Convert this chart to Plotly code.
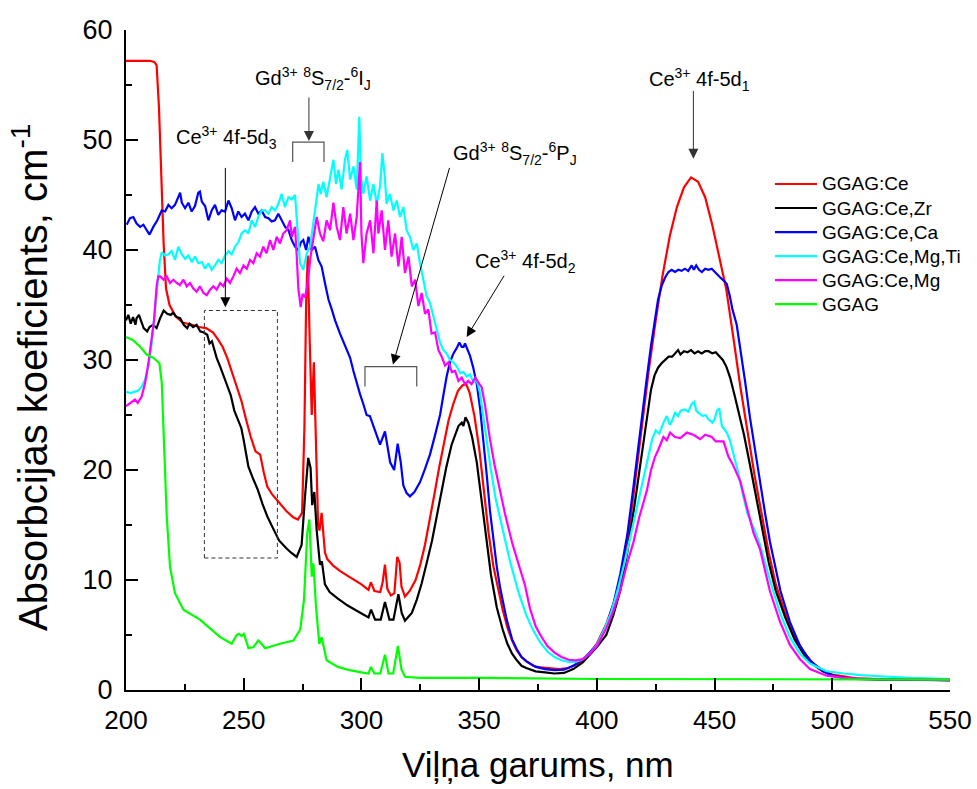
import plotly.graph_objects as go

# ---- absorption spectra (wavelength in nm, absorption coefficient in cm^-1) ----
series_names = ["GGAG:Ce", "GGAG:Ce,Zr", "GGAG:Ce,Ca", "GGAG:Ce,Mg,Ti", "GGAG:Ce,Mg", "GGAG"]
series_colors = ["#ff0000", "#000000", "#0000ff", "#00ffff", "#ff00ff", "#00ff00"]

wl_ce = [200, 205, 210, 212, 213, 214, 215, 216, 217, 218.5, 221, 224, 228, 231, 234, 237, 239, 241,
         243, 245, 247, 249, 251, 253, 255, 257, 258.5, 260, 262, 265, 268, 271, 273, 274.8, 275.8,
         276.5, 277.2, 278, 278.9, 279.8, 280.6, 281.6, 282.2, 283.1, 284.5, 285.5, 288, 291, 294,
         297, 300, 303, 304, 305.5, 308, 309, 310, 311, 312.5, 314, 315.2, 316.2, 317, 318.5, 320.5,
         323, 325, 327, 329, 331, 333, 335, 337, 339, 341, 343, 344.5, 346, 348, 350, 352, 354, 356,
         358, 360, 362, 364, 366, 368, 370, 373, 376, 380, 384, 388, 392, 396, 400, 404, 407, 410,
         413, 416, 419, 422, 425, 428, 431, 434, 437, 440, 443, 446, 449, 452, 455, 458, 461, 464,
         467, 470, 473, 476, 480, 484, 488, 492, 496, 500, 505, 510, 520, 530, 540, 550]
ab_ce = [57.2, 57.2, 57.2, 57.1, 56.8, 53.0, 47.0, 40.5, 36.5, 35.0, 34.0, 33.4, 33.2, 33.0, 32.9,
         32.5, 31.9, 31.2, 30.2, 28.9, 27.5, 26.3, 24.6, 23.0, 21.7, 21.4, 19.8, 18.5, 17.8, 17.0,
         16.3, 15.7, 15.5, 16.1, 24.0, 35.0, 39.5, 32.0, 25.0, 29.8, 22.0, 15.0, 14.5, 16.1, 12.5,
         11.9, 11.3, 10.8, 10.4, 10.0, 9.6, 9.1, 9.8, 9.0, 8.9, 9.8, 11.4, 9.2, 8.6, 8.8, 12.1, 11.6,
         9.4, 8.5, 9.0, 10.0, 11.4, 13.2, 15.4, 17.8, 20.2, 22.5, 24.5, 26.0, 27.2, 27.7, 27.8, 27.0,
         24.9, 22.0, 18.0, 14.3, 11.3, 9.3, 7.3, 5.7, 4.5, 3.6, 3.0, 2.6, 2.2, 2.05, 1.95, 1.9, 2.0,
         2.4, 3.1, 4.2, 6.0, 7.8, 10.0, 13.5, 18.5, 24.0, 29.0, 33.6, 37.8, 41.3, 43.9, 45.7, 46.6,
         46.2, 44.8, 42.3, 39.3, 36.4, 32.0, 27.5, 23.5, 19.5, 16.0, 12.5, 9.6, 7.0, 4.9, 3.4, 2.4,
         1.8, 1.4, 1.2, 1.05, 1.0, 0.95, 0.9, 0.9]

wl_zr = [200, 201, 202, 203, 204, 204.5, 205.5, 206.5, 207.5, 209, 210, 211.5, 213, 214.5, 216,
         217.5, 219, 220, 221.5, 223, 224.5, 226, 227, 228.5, 230, 231.5, 233, 234.5, 235.5, 236.5,
         237.5, 238.5, 240, 241.5, 243, 244.5, 246, 247.5, 249, 250, 252, 254, 256, 258, 260, 262,
         265, 268, 270, 272.5, 274.6, 276, 277.4, 278.4, 279.1, 280, 281, 282.4, 283.2, 284.5, 286.5,
         290, 294, 298, 302, 303, 304.1, 305.8, 308.2, 310, 311.9, 313.6, 315.7, 317.1, 318.5, 321.4,
         323.5, 325.6, 328, 330, 332, 334, 336, 338.3, 340, 341.2, 342.6, 343.3, 344.2, 345.4, 347,
         349, 351, 353, 355, 357.5, 360, 362, 364, 366, 368, 370, 374, 378, 382, 386, 390, 394, 397,
         400, 404, 407, 410, 413, 416, 419, 421.5, 423, 424.5, 426, 427.5, 429, 430.5, 432, 433.5,
         434.5, 435.5, 437, 438.5, 440, 441.5, 443, 444.5, 446, 447.5, 449, 450.5, 452, 453.5, 455,
         456.6, 458.5, 460.5, 462.5, 465, 467.5, 470, 473, 476, 480, 484, 488, 492, 496, 500, 505,
         510, 520, 550]
ab_zr = [33.6, 34.1, 33.3, 33.9, 33.2, 33.8, 34.1, 33.5, 32.9, 32.6, 33.0, 33.2, 32.9, 33.8, 34.5,
         34.2, 34.1, 34.3, 33.9, 33.8, 33.2, 32.9, 33.3, 33.0, 33.2, 32.6, 32.5, 32.3, 31.5, 31.7,
         31.0, 30.2, 29.4, 28.5, 27.8, 26.8, 25.4, 24.6, 23.8, 22.7, 20.3, 19.2, 18.2, 16.9, 15.8,
         14.9, 13.6, 12.9, 12.5, 12.1, 13.2, 17.5, 21.1, 20.2, 16.8, 18.0, 14.5, 11.4, 11.7, 9.6, 8.9,
         8.3, 7.7, 7.2, 6.7, 6.6, 7.3, 6.4, 6.4, 8.0, 6.4, 6.4, 8.7, 7.0, 6.3, 7.0, 8.2, 9.7, 11.8,
         13.6, 15.8, 18.0, 20.2, 22.3, 23.4, 24.0, 24.3, 24.0, 24.8, 24.3, 23.0, 20.7, 17.3, 13.8,
         10.5, 7.5, 5.5, 4.2, 3.3, 2.7, 2.2, 2.0, 1.7, 1.6, 1.5, 1.55, 1.9, 2.5, 3.2, 3.9, 5.0, 6.8,
         9.1, 12.6, 16.8, 21.5, 25.0, 27.3, 28.6, 29.3, 29.7, 30.0, 30.3, 30.3, 30.7, 30.9, 30.5,
         30.8, 30.7, 30.9, 30.6, 30.8, 30.6, 30.8, 30.8, 30.6, 30.7, 30.3, 30.0, 29.4, 28.4, 26.8,
         25.0, 23.2, 20.5, 17.8, 15.0, 11.6, 9.0, 6.6, 4.6, 3.2, 2.3, 1.7, 1.3, 1.1, 1.0, 0.95, 0.9]

wl_ca = [200.3, 201.7, 203.1, 204.5, 206, 207.4, 208.8, 210, 211.6, 213.3, 215.2, 216.6, 218, 219.4,
         220.8, 222.2, 223, 223.7, 225.1, 226.5, 227.9, 229.3, 230.7, 231.4, 232.2, 233.6, 235,
         236.4, 237.8, 239.2, 240.6, 242.1, 243.5, 244.9, 246.3, 247.7, 249.1, 250.5, 252, 253.4,
         254.8, 256.2, 257.6, 259.1, 260.5, 261.9, 263.3, 264.7, 266.1, 267.6, 269, 270.4, 271.8,
         273.2, 274.3, 275.3, 276.5, 277.5, 278.9, 280.3, 281.7, 283.1, 284.5, 286, 287.4, 288.8,
         290.9, 293, 295.2, 296.6, 298, 299.4, 300.8, 302.2, 303.6, 305.8, 307.9, 310, 312.2, 313.9,
         315.4, 316.7, 317.8, 319.2, 320.6, 322.5, 324.9, 327, 329.1, 331.2, 333.4, 334.8, 336.2,
         337.6, 339.1, 340.5, 341.6, 342.6, 343.4, 344, 345, 346.1, 347.5, 349, 350.4, 351.8, 353.2,
         354.6, 356, 357.5, 359, 361.7, 364, 366, 368, 370.2, 374, 378, 382, 386, 390, 394, 397, 400,
         404, 407, 410, 413, 415.5, 418, 421, 423, 424.7, 426, 427.6, 429, 430.4, 431.8, 433.2,
         434.6, 436, 437.4, 438.8, 440.3, 441.2, 442.2, 443.4, 444.6, 446, 447.4, 448.8, 450, 451.4,
         452.4, 454, 455.2, 456.5, 457.6, 459.4, 461.2, 463, 465, 467, 469.3, 471.5, 473.5, 476,
         478, 482, 486.3, 490.5, 494.8, 500, 505, 512, 530, 550]
ab_ca = [42.3, 42.9, 43.0, 42.4, 42.1, 42.3, 41.8, 41.4, 42.1, 42.7, 43.6, 43.5, 44.1, 43.8, 44.1,
         44.8, 45.2, 44.3, 43.8, 44.3, 43.5, 44.0, 45.2, 45.3, 44.4, 44.0, 42.7, 43.6, 44.1, 43.2,
         43.6, 43.5, 44.5, 43.8, 42.7, 43.5, 43.0, 43.3, 42.7, 43.5, 43.9, 43.3, 43.6, 43.0, 42.9,
         42.6, 42.7, 43.3, 42.7, 42.1, 41.8, 40.9, 40.3, 40.0, 40.7, 40.9, 40.0, 41.2, 40.0, 40.3,
         39.1, 38.5, 37.0, 35.5, 34.6, 33.6, 32.4, 31.4, 30.2, 29.0, 27.9, 26.9, 26.0, 25.0, 24.9,
         23.5, 22.3, 23.5, 20.7, 20.0, 22.4, 20.7, 18.6, 17.9, 17.6, 18.0, 18.9, 20.1, 21.4, 23.1,
         25.0, 26.8, 28.5, 29.8, 30.6, 31.1, 31.6, 31.2, 31.2, 31.5, 31.0, 30.4, 29.3, 27.8, 25.6,
         22.8, 19.6, 16.3, 13.6, 11.2, 9.2, 6.4, 4.6, 3.7, 3.0, 2.6, 2.1, 1.9, 1.8, 1.85, 2.2, 2.8,
         3.4, 4.1, 5.8, 7.8, 10.6, 14.2, 18.4, 23.0, 28.0, 31.3, 33.9, 35.5, 36.8, 37.5, 38.0, 38.2,
         38.0, 38.2, 38.1, 38.3, 38.1, 38.6, 38.2, 38.6, 38.2, 38.0, 38.3, 38.2, 38.3, 38.0, 37.7,
         37.5, 37.2, 36.9, 35.8, 34.6, 33.2, 30.7, 28.0, 24.8, 22.0, 19.0, 16.0, 13.5, 11.0, 9.0,
         6.2, 4.0, 2.7, 1.9, 1.3, 1.1, 1.0, 0.95, 0.9]

wl_mgti = [200, 202, 203.5, 205, 206, 207, 208.1, 209.5, 210.9, 212.3, 213.3, 214.4, 215.2, 216.6,
           218, 219.4, 220.8, 222.2, 223.7, 225.1, 226.5, 227.9, 229.3, 230.7, 232.2, 233.6, 235,
           236.4, 237.8, 239.2, 240.6, 242.1, 243.5, 244.9, 246.3, 247.7, 249.1, 250.6, 252, 253.4,
           254.8, 256.2, 257.6, 259.1, 260.5, 261.9, 263.3, 264.7, 266.1, 267.5, 269, 270.4, 271.8,
           272.6, 273.9, 275.3, 276.8, 278.2, 279.6, 281, 281.8, 282.7, 283.8, 285.2, 286.7, 288.1,
           289.2, 290.2, 291.6, 293, 294, 295.2, 296.6, 298, 299.1, 299.8, 300.8, 302.2, 303.7,
           305.1, 306.5, 307.9, 308.9, 309.9, 310.7, 312.1, 313.6, 315, 316.4, 317.8, 319.2, 320.6,
           322.1, 323.5, 324.9, 326.3, 327.7, 329.1, 330.6, 332, 333.4, 334.8, 336.2, 337.6, 339,
           340.5, 342, 343.3, 344.7, 346.1, 347.5, 349, 350.2, 351.5, 353.2, 355, 357, 359, 361, 363,
           365, 367, 370, 373, 376, 379, 382, 385, 388, 391, 394, 397, 400, 403, 406, 409, 412, 415,
           418, 421, 423.5, 425, 426.5, 428.3, 429.7, 431, 432, 433.2, 434.5, 435.6, 437.5, 438.8,
           440.3, 441.4, 442.2, 443.2, 445, 446.2, 447.4, 449, 450, 451, 452, 453.1, 455.2, 456.5,
           458, 460, 462, 464, 466.5, 469.3, 473.5, 477.8, 482, 486.3, 490.5, 497.6, 505, 512, 520,
           533, 550]
ab_mgti = [27.1, 27.0, 27.1, 27.2, 27.4, 27.7, 28.2, 29.4, 31.5, 34.3, 36.7, 39.1, 39.8, 39.5,
           39.6, 39.9, 39.1, 40.3, 39.6, 39.2, 39.5, 38.9, 39.4, 38.8, 38.9, 38.3, 38.8, 38.2, 38.6,
           39.1, 38.8, 39.5, 39.9, 39.6, 40.3, 40.7, 41.5, 41.8, 41.5, 42.7, 42.1, 43.0, 43.6, 43.6,
           43.3, 43.9, 43.6, 44.2, 45.1, 43.9, 44.8, 44.6, 45.0, 42.4, 38.8, 38.2, 39.7, 40.3, 42.4,
           44.8, 46.0, 45.1, 46.2, 44.8, 46.5, 48.2, 46.0, 47.3, 45.5, 48.2, 49.1, 46.4, 47.6, 45.5,
           52.1, 46.7, 45.1, 46.7, 44.5, 46.0, 44.2, 45.8, 48.8, 46.7, 44.2, 45.1, 43.6, 44.5, 43.0,
           43.9, 41.8, 41.2, 40.0, 40.6, 38.8, 37.3, 35.8, 35.2, 34.0, 32.8, 31.6, 30.9, 30.6, 30.0,
           29.8, 29.4, 28.8, 28.9, 28.5, 28.7, 28.0, 28.1, 27.2, 25.3, 22.6, 20.0, 17.4, 15.5, 13.5,
           11.8, 10.2, 8.7, 6.8, 5.4, 4.3, 3.5, 3.0, 2.7, 2.55, 2.55, 2.8, 3.3, 4.1, 5.4, 7.0, 9.2,
           11.8, 14.6, 17.6, 20.5, 22.8, 23.6, 23.3, 24.3, 24.9, 24.1, 24.5, 25.2, 24.9, 25.4, 25.5,
           25.3, 26.0, 26.2, 25.4, 25.2, 24.9, 25.0, 24.6, 24.3, 24.6, 25.4, 25.6, 24.0, 23.4, 22.7,
           21.5, 19.8, 17.8, 16.0, 14.8, 13.2, 10.0, 7.0, 4.8, 3.3, 2.4, 1.7, 1.5, 1.35, 1.25, 1.1,
           1.0]

wl_mg = [200, 201.5, 202.5, 203.8, 205, 206.7, 208.1, 209.5, 210.9, 211.9, 213, 213.7, 214.6,
         215.9, 217.3, 218.7, 220.1, 221.5, 222.9, 224.4, 225.8, 227.2, 228.6, 230, 231.4, 232.9,
         234.3, 235.7, 237.1, 238.5, 240, 241.4, 242.8, 244.2, 245.6, 247, 248.4, 249.9, 251.3,
         252.7, 254.1, 255.5, 256.9, 258.3, 259.7, 261.2, 262.6, 264, 265.4, 266.8, 268.2, 269.7,
         270.4, 271.8, 272.5, 273.2, 274.2, 275, 276, 277, 278.4, 279.6, 281, 282.4, 283.8, 285.2,
         286.7, 288.1, 289.5, 290.9, 292.3, 293.7, 295.2, 296.6, 298, 299.4, 300, 300.8, 302.2,
         303.7, 305.1, 306.5, 307.2, 308.6, 310, 311.4, 312.8, 314.3, 315.7, 317.1, 318.5, 320,
         321.4, 322.8, 324.2, 325.6, 327, 328.4, 329.8, 331.3, 332.7, 334.1, 335.5, 337, 338.4,
         339.8, 341.2, 342.6, 344, 345.4, 346.8, 348.3, 349.7, 351.1, 352.5, 354.6, 356.5, 358.5,
         361, 364, 367, 369.5, 371.6, 374, 376, 379, 382, 385, 388, 391, 394, 397, 400, 404, 407,
         410, 413, 415.5, 418, 421.2, 423, 424.7, 426, 426.9, 428.3, 429.7, 431.1, 433.2, 435.5,
         438.2, 441, 443.9, 446, 448.8, 450.5, 453.8, 455.9, 457.5, 460.9, 463.5, 466.5, 469.3,
         473.5, 477.8, 482, 486.3, 490.5, 497.6, 505, 515, 550]
ab_mg = [25.8, 26.0, 26.2, 26.4, 26.1, 26.7, 27.9, 29.7, 31.8, 33.6, 36.7, 37.6, 37.6, 37.3, 37.6,
         37.0, 37.3, 37.0, 36.8, 37.3, 36.7, 37.0, 36.5, 36.2, 36.7, 36.1, 35.9, 36.4, 36.7, 36.4,
         37.0, 36.7, 37.4, 37.0, 37.6, 38.3, 37.9, 38.6, 38.3, 39.1, 38.8, 39.7, 39.4, 40.3, 39.7,
         40.9, 40.0, 41.2, 40.6, 41.5, 41.8, 42.7, 41.2, 42.1, 39.5, 36.5, 34.8, 36.0, 35.7, 36.7,
         39.4, 40.9, 43.0, 41.5, 40.8, 42.7, 41.8, 44.3, 42.1, 40.9, 43.9, 41.5, 43.3, 40.9, 43.0,
         48.0, 41.5, 38.8, 41.5, 42.7, 39.7, 44.5, 41.5, 43.6, 40.0, 42.7, 39.4, 41.5, 38.5, 41.2,
         37.9, 39.4, 36.7, 37.3, 34.9, 36.1, 34.2, 34.6, 32.4, 32.5, 30.9, 30.3, 29.5, 29.8, 28.9,
         29.0, 28.1, 28.4, 27.8, 28.1, 27.8, 28.4, 28.0, 27.5, 25.9, 22.8, 20.5, 18.5, 16.0, 13.4,
         11.3, 9.5, 7.4, 5.8, 5.0, 4.0, 3.4, 3.0, 2.75, 2.7, 2.8, 3.3, 4.0, 5.6, 7.2, 9.1, 11.6,
         13.4, 15.7, 18.1, 20.0, 21.2, 21.8, 22.3, 23.0, 22.7, 23.4, 23.0, 22.9, 23.4, 23.2, 22.8,
         23.2, 23.0, 22.6, 22.6, 21.2, 20.6, 19.0, 16.8, 14.3, 12.8, 9.0, 6.2, 4.1, 2.8, 1.9, 1.3,
         1.1, 1.0, 0.95]

wl_undoped = [200, 203, 206, 208.8, 211.6, 214.2, 215.2, 216.2, 217.3, 218.7, 220.8, 224.4, 228,
              231.4, 235.7, 240, 244.9, 247, 248, 249.1, 250.1, 252, 254.1, 256.2, 257.5, 259.1,
              265.4, 271.1, 274, 275.6, 277, 277.9, 278.9, 279.6, 280.7, 282.1, 283.1, 285.2, 290,
              295, 300, 303, 304, 305.5, 308, 310, 311.5, 313.5, 315.5, 317, 318.5, 325, 350, 400,
              550]
ab_undoped = [32.1, 31.8, 31.2, 30.5, 30.2, 29.7, 27.9, 21.8, 15.8, 11.2, 8.8, 7.3, 6.8, 6.4, 5.6,
              4.8, 4.2, 5.0, 5.1, 4.9, 5.1, 3.8, 3.9, 4.5, 4.2, 3.8, 4.2, 4.5, 5.5, 8.2, 14.3, 15.5,
              10.3, 11.5, 7.6, 4.2, 4.8, 2.7, 2.1, 1.8, 1.6, 1.5, 2.1, 1.5, 1.5, 3.2, 1.5, 1.5, 4.0,
              1.9, 1.2, 1.1, 1.1, 1.0, 0.95]

wavelengths = [wl_ce, wl_zr, wl_ca, wl_mgti, wl_mg, wl_undoped]
absorption = [ab_ce, ab_zr, ab_ca, ab_mgti, ab_mg, ab_undoped]

x_ticks = [200, 250, 300, 350, 400, 450, 500, 550]
y_ticks = [0, 10, 20, 30, 40, 50, 60]

FONT = "Arial, Liberation Sans, sans-serif"

fig = go.Figure()
for name, color, xs, ys in zip(series_names, series_colors, wavelengths, absorption):
    fig.add_trace(go.Scatter(x=xs, y=ys, mode="lines", name=name, showlegend=False,
                             line=dict(color=color, width=2.2)))

# ---- legend: line sample + name, stacked at a fixed row pitch ----
LEG_X0, LEG_X1, LEG_TX = 0.7876, 0.8386, 0.8425   # sample start / end, text start (paper x)
LEG_Y0, LEG_DY = 0.7667, 0.0364                    # first row centre, row pitch (paper y)
for i, (name, color) in enumerate(zip(series_names, series_colors)):
    yy = LEG_Y0 - i * LEG_DY
    fig.add_shape(type="line", xref="paper", yref="paper", x0=LEG_X0, x1=LEG_X1, y0=yy, y1=yy,
                  line=dict(color=color, width=2.2))
    fig.add_annotation(xref="paper", yref="paper", x=LEG_TX, y=yy, text=name, showarrow=False,
                       xanchor="left", yanchor="middle",
                       font=dict(family=FONT, size=19, color="black"))

# ---- transition labels and markers ----
def label(x, y, text):
    fig.add_annotation(x=x, y=y, xref="x", yref="y", text=text, showarrow=False,
                       font=dict(family=FONT, size=20, color="black"))

def arrow(x0, y0, x1, y1, color="black"):
    fig.add_annotation(x=x1, y=y1, ax=x0, ay=y0, xref="x", yref="y", axref="x", ayref="y",
                       text="", showarrow=True, arrowhead=2, arrowsize=2.0, arrowwidth=1,
                       arrowcolor=color, standoff=0, startstandoff=0)

label(242.7, 50.2, "Ce<sup>3+</sup> 4f-5d<sub>3</sub>")
arrow(242.2, 47.6, 242.2, 34.8)

label(279.5, 55.6, "Gd<sup>3+</sup> <sup>8</sup>S<sub>7/2</sub>-<sup>6</sup>I<sub>J</sub>")
arrow(277.7, 54.0, 277.7, 49.9, "#333333")

label(365.3, 48.8, "Gd<sup>3+</sup> <sup>8</sup>S<sub>7/2</sub>-<sup>6</sup>P<sub>J</sub>")
arrow(337.6, 47.6, 313.4, 29.6)

label(369.5, 39.0, "Ce<sup>3+</sup> 4f-5d<sub>2</sub>")
arrow(361.0, 37.8, 344.7, 32.1)

label(443.8, 55.5, "Ce<sup>3+</sup> 4f-5d<sub>1</sub>")
arrow(441.0, 54.6, 441.0, 48.3, "#333333")

# brackets marking the Gd3+ line groups
fig.add_shape(type="path", xref="x", yref="y",
              path="M270.8,48.0 L270.8,49.8 L284.1,49.8 L284.1,48.0",
              line=dict(color="#555555", width=1.2))
fig.add_shape(type="path", xref="x", yref="y",
              path="M301.5,27.6 L301.5,29.4 L323.5,29.4 L323.5,27.6",
              line=dict(color="#555555", width=1.2))
# dashed box around the 4f-5d3 band
fig.add_shape(type="rect", xref="x", yref="y", x0=233.3, x1=264.3, y0=12.0, y1=34.5,
              line=dict(color="#333333", width=1, dash="4px,3px"))

# axis titles as annotations, placed at fixed offsets from the plot area
fig.add_annotation(xref="paper", yref="paper", x=-0.1165, y=0.4727,
                   text="Absorbcijas koeficients, cm<sup>-1</sup>", textangle=-90,
                   showarrow=False, xanchor="center", yanchor="middle",
                   font=dict(family=FONT, size=40, color="black"))
fig.add_annotation(xref="paper", yref="paper", x=0.5, y=-0.1136,
                   text="Viļņa garums, nm", showarrow=False, xanchor="center", yanchor="middle",
                   font=dict(family=FONT, size=35, color="black"))

axis_common = dict(showgrid=False, zeroline=False, showline=True, linecolor="black", linewidth=2,
                   ticks="inside", ticklen=12, tickwidth=2, tickcolor="black", mirror=False,
                   automargin=False)

fig.update_xaxes(range=[200, 550], tickvals=x_ticks,
                 tickfont=dict(family=FONT, size=26, color="black"), ticklabelstandoff=6,
                 minor=dict(ticks="inside", ticklen=6, tickwidth=2, tickcolor="black", dtick=25,
                            tick0=200),
                 **axis_common)
fig.update_yaxes(range=[0, 60], tickvals=y_ticks,
                 tickfont=dict(family=FONT, size=27, color="black"), ticklabelstandoff=6,
                 minor=dict(ticks="inside", ticklen=6, tickwidth=2, tickcolor="black", dtick=5,
                            tick0=0),
                 **axis_common)

fig.update_layout(
    width=977, height=789,
    margin=dict(l=126, r=27, t=30, b=99),
    paper_bgcolor="white", plot_bgcolor="white",
    font=dict(family=FONT, color="black"),
    showlegend=False,
)

fig.write_html("out.html")
